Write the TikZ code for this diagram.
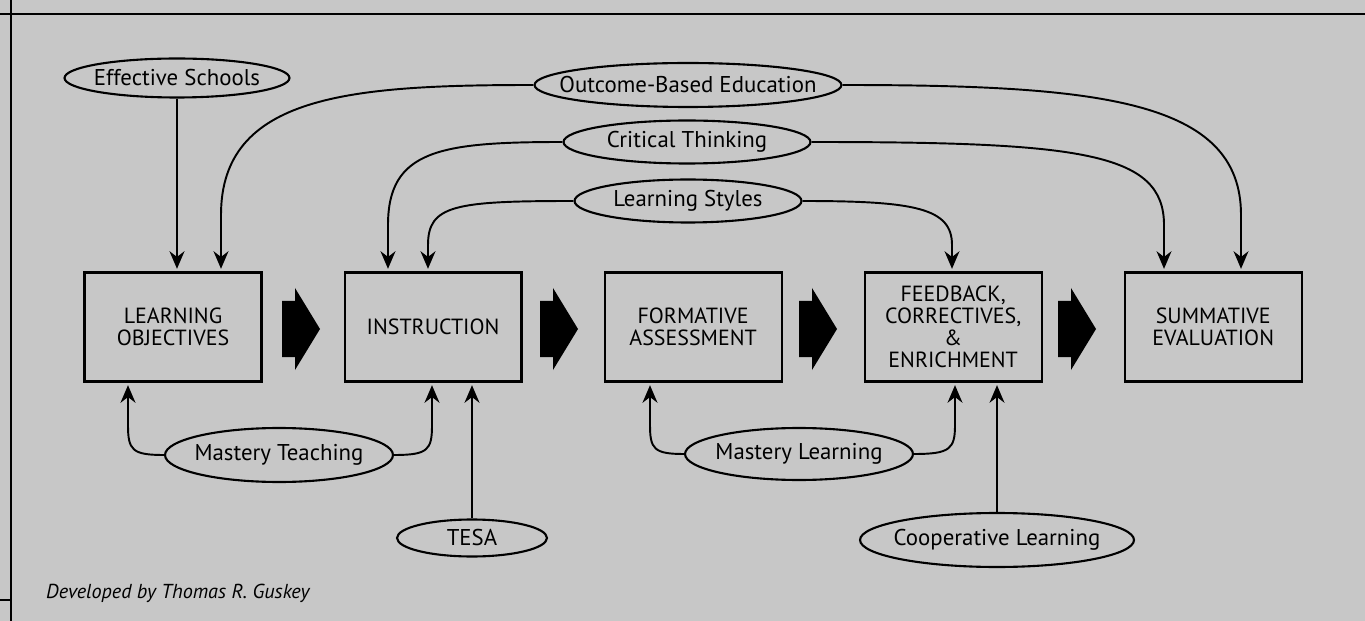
\documentclass[tikz,border=0pt]{standalone}
\usepackage{fontspec}
\setmainfont{PT Sans}
\usetikzlibrary{positioning,shapes.geometric,arrows.meta}

\definecolor{paper}{gray}{0.78}

\tikzset{
  topic/.style={ellipse,draw,line width=1.2pt,inner sep=0pt,font=\fontsize{13}{15}\selectfont},
  stage/.style={rectangle,draw,line width=1.2pt,minimum width=3.54cm,minimum height=2.18cm,
    align=center,font=\fontsize{12.5}{12.6}\selectfont},
  link/.style={->,line width=1.1pt,shorten >=1.5pt},
}

\begin{document}
\begin{tikzpicture}[x=0.02cm,y=-0.02cm,>={Stealth[length=10pt,width=8.5pt]}]
\useasboundingbox[fill=paper] (0,0) rectangle (1365,621);
% page rules
\draw[line width=1pt] (0,14) -- (1365,14);
\draw[line width=0.8pt] (11,0) -- (11,621);
\draw[line width=0.8pt] (0,600) -- (11,600);

% the five stages
\node[stage] (lo) at (173,327) {LEARNING\\OBJECTIVES};
\node[stage,right=1.62cm of lo] (ins) {INSTRUCTION};
\node[stage,right=1.62cm of ins] (fa) {FORMATIVE\\ASSESSMENT};
\node[stage,right=1.62cm of fa] (fb) {FEEDBACK,\\CORRECTIVES,\\\&\\ENRICHMENT};
\node[stage,right=1.62cm of fb] (se) {SUMMATIVE\\EVALUATION};

\foreach \c in {301,559,818,1077}
  \fill (\c-19,301) -- (\c-6,301) -- (\c-6,288) -- (\c+19,329) -- (\c-6,370) -- (\c-6,357) -- (\c-19,357) -- cycle;

% programs above
\node[topic,minimum width=4.5cm,minimum height=0.78cm] (eff) at (177,78) {\makebox[0pt]{Effective Schools}};
\node[topic,minimum width=6.14cm,minimum height=0.88cm] (obe) at (688,85) {\makebox[0pt]{Outcome-Based Education}};
\node[topic,minimum width=4.94cm,minimum height=0.86cm] (crit) at (687,142) {\makebox[0pt]{Critical Thinking}};
\node[topic,minimum width=4.54cm,minimum height=0.86cm] (lsty) at (688,201) {\makebox[0pt]{Learning Styles}};

% programs below
\node[topic,minimum width=4.56cm,minimum height=1.08cm] (mteach) at (279,455) {\makebox[0pt]{Mastery Teaching}};
\node[topic,minimum width=3.0cm,minimum height=0.74cm] (tesa) at (472,538) {\makebox[0pt]{TESA}};
\node[topic,minimum width=4.56cm,minimum height=1.04cm] (mlearn) at (799,454) {\makebox[0pt]{Mastery Learning}};
\node[topic,minimum width=5.48cm,minimum height=1.08cm] (coop) at (997,540) {\makebox[0pt]{Cooperative Learning}};

\draw[link] (eff.south) -- (eff.south |- lo.north);
\draw[link] (obe.west) .. controls (350,85) and (221,95) .. (221,215) -- (221,0 |- lo.north);
\draw[link] (obe.east) .. controls (1100,85) and (1241,100) .. (1241,215) -- (1241,0 |- se.north);
\draw[link] (crit.west) .. controls (440,142) and (388,150) .. (388,225) -- (388,0 |- ins.north);
\draw[link] (crit.east) .. controls (1080,142) and (1164,152) .. (1164,225) -- (1164,0 |- se.north);
\draw[link] (lsty.west) .. controls (455,201) and (428,205) .. (428,245) -- (428,0 |- ins.north);
\draw[link] (lsty.east) .. controls (915,201) and (952,208) .. (952,245) -- (952,0 |- fb.north);

\draw[link] (mteach.west) .. controls (132,455) and (128,450) .. (128,425) -- (128,0 |- lo.south);
\draw[link] (mteach.east) .. controls (428,455) and (432,450) .. (432,425) -- (432,0 |- ins.south);
\draw[link] (tesa.north) -- (tesa.north |- ins.south);
\draw[link] (mlearn.west) .. controls (654,454) and (650,449) .. (650,425) -- (650,0 |- fa.south);
\draw[link] (mlearn.east) .. controls (950,454) and (955,449) .. (955,425) -- (955,0 |- fb.south);
\draw[link] (coop.north) -- (coop.north |- fb.south);

\node[anchor=west,font=\itshape\fontsize{11.5}{13}\selectfont] (credit) at (40,593) {Developed by Thomas R. Guskey};
\end{tikzpicture}
\end{document}
